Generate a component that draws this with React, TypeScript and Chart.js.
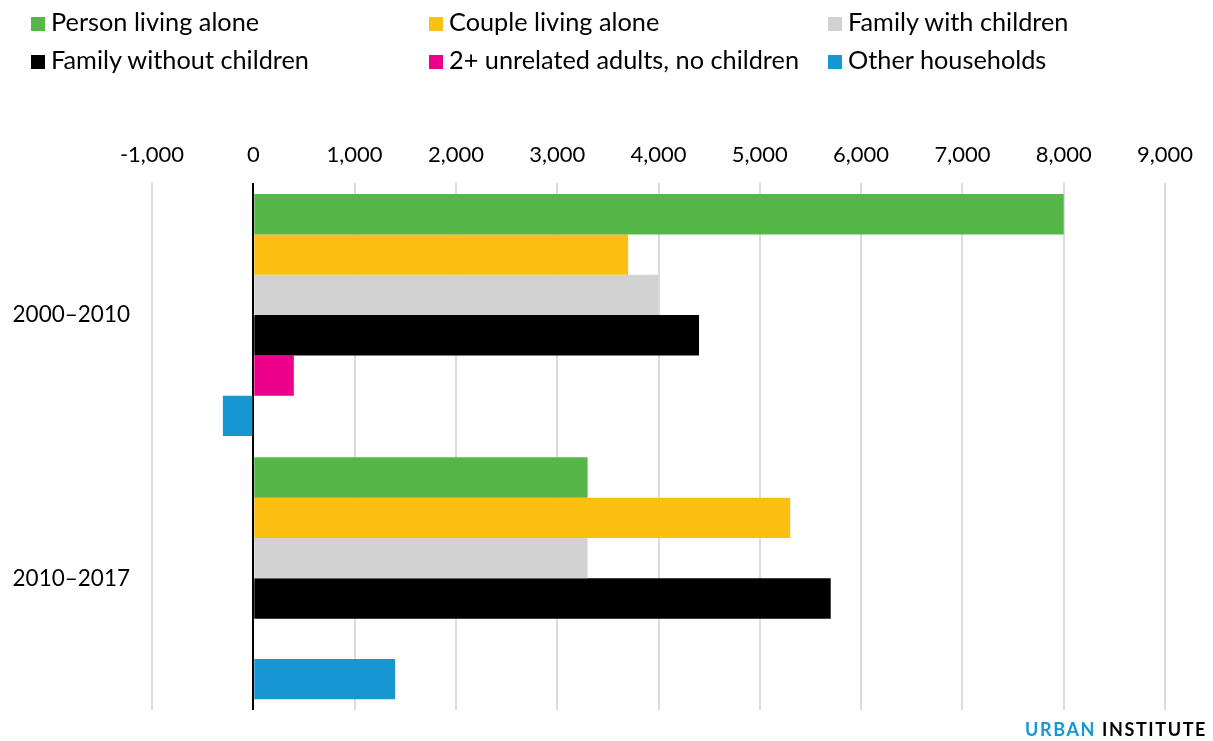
import React, { useEffect, useRef } from "react";
import { Chart, registerables } from "chart.js";

Chart.register(...registerables);

const categories = ["2000–2010", "2010–2017"];
const seriesNames = [
  "Person living alone",
  "Couple living alone",
  "Family with children",
  "Family without children",
  "2+ unrelated adults, no children",
  "Other households",
];
const seriesColors = ["#55b748", "#fdbf11", "#d2d2d2", "#000000", "#ec008b", "#1696d2"];
const personAlone = [8000, 3300];
const coupleAlone = [3700, 5300];
const familyWithChildren = [4000, 3300];
const familyWithoutChildren = [4400, 5700];
const unrelatedAdults = [400, 0];
const otherHouseholds = [-300, 1400];
const seriesValues = [personAlone, coupleAlone, familyWithChildren, familyWithoutChildren, unrelatedAdults, otherHouseholds];
const xMin = -1000;
const xMax = 9000;
const xStep = 1000;

const FONT = "Lato, 'Noto Sans', sans-serif";

export default function App() {
  const ref = useRef<HTMLCanvasElement | null>(null);

  useEffect(() => {
    if (!ref.current) return;
    const chart = new Chart(ref.current, {
      type: "bar",
      data: {
        labels: categories,
        datasets: seriesNames.map((name, i) => ({
          label: name,
          data: seriesValues[i],
          backgroundColor: seriesColors[i],
          borderWidth: 0,
          barPercentage: 1,
          categoryPercentage: 0.919,
        })),
      },
      options: {
        indexAxis: "y",
        animation: false,
        responsive: false,
        maintainAspectRatio: false,
        layout: { padding: { top: 127, left: 13, right: 48, bottom: 31 } },
        plugins: {
          legend: { display: false },
          tooltip: { enabled: false },
        },
        scales: {
          x: {
            position: "top",
            min: xMin,
            max: xMax,
            ticks: {
              stepSize: xStep,
              padding: 15,
              color: "#000",
              font: { family: FONT, size: 22 },
              callback: (v: any) => Number(v).toLocaleString("en-US"),
            },
            grid: {
              drawTicks: false,
              color: (ctx: any) => (ctx.tick && ctx.tick.value === 0 ? "#000000" : "#dcdcdc"),
              lineWidth: 2,
            },
            border: { display: false },
          },
          y: {
            afterFit: (scale: any) => {
              scale.width = 139;
              scale.paddingTop = 0;
              scale.paddingBottom = 0;
            },
            ticks: {
              padding: 22,
              color: "#000",
              font: { family: FONT, size: 22.5 },
            },
            grid: { display: false, drawTicks: false },
            border: { display: false },
          },
        },
      },
    });
    return () => chart.destroy();
  }, []);

  const cols = [31, 429, 828];
  const baselines = [31, 69];
  const fs = 25.3;

  return (
    <div style={{ position: "fixed", left: 0, top: 0, width: 1213, height: 741, background: "#fff", fontFamily: FONT }}>
      <canvas ref={ref} width={1213} height={741} style={{ position: "absolute", left: 0, top: 0 }} />
      {seriesNames.map((name, i) => {
        const bl = baselines[Math.floor(i / 3)];
        return (
          <div key={name}>
            <div
              style={{
                position: "absolute",
                left: cols[i % 3],
                top: bl - 14,
                width: 14,
                height: 14,
                background: seriesColors[i],
              }}
            />
            <div
              style={{
                position: "absolute",
                left: cols[i % 3] + 20,
                top: bl - 22,
                fontSize: fs,
                lineHeight: "25px",
                color: "#000",
                whiteSpace: "nowrap",
              }}
            >
              {name}
            </div>
          </div>
        );
      })}
      <div
        style={{
          position: "absolute",
          right: 6,
          top: 718,
          fontSize: 18,
          fontWeight: 700,
          letterSpacing: 1.6,
          whiteSpace: "nowrap",
        }}
      >
        <span style={{ color: "#1696d2" }}>URBAN</span> <span style={{ color: "#000" }}>INSTITUTE</span>
      </div>
    </div>
  );
}
